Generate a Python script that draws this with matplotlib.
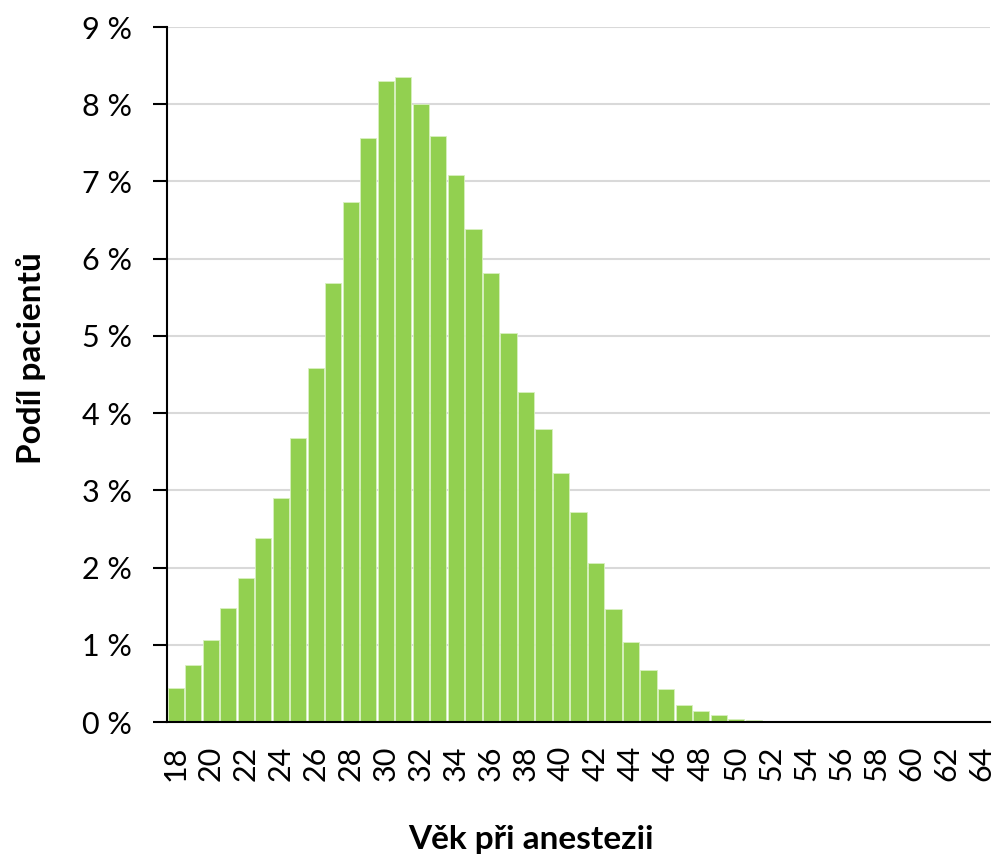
import numpy as np
import matplotlib
matplotlib.use('Agg')
import matplotlib.pyplot as plt
from matplotlib.ticker import FuncFormatter

plt.rcParams['font.family'] = ['Lato', 'DejaVu Sans']

ages = list(range(18, 65))
shares = [0.44, 0.74, 1.06, 1.48, 1.87, 2.38, 2.90, 3.68, 4.59, 5.69,
          6.74, 7.56, 8.30, 8.35, 8.00, 7.59, 7.08, 6.39, 5.82, 5.04,
          4.27, 3.80, 3.23, 2.72, 2.06, 1.46, 1.04, 0.67, 0.43, 0.22,
          0.14, 0.09, 0.04, 0.025, 0.01, 0.005, 0.003, 0.002, 0.001, 0.001,
          0.0, 0.0, 0.0, 0.0, 0.0, 0.0, 0.0]

fig = plt.figure(figsize=(10.02, 8.58), dpi=100)
ax = fig.add_axes([0.1667, 0.1585, 0.8213, 0.81])

x = np.arange(len(ages))
ax.bar(x, shares, width=0.92, color='#92D050', edgecolor='#D8F0C0', linewidth=0.6, zorder=3)

ax.set_xlim(-0.5, len(ages) - 0.5)
ax.set_ylim(0, 9)
ax.set_yticks(range(0, 10))
ax.yaxis.set_major_formatter(FuncFormatter(lambda v, p: f'{int(v)} %'))
ax.set_xticks(x[::2])
ax.set_xticklabels([str(a) for a in ages[::2]], rotation=90)

ax.grid(axis='y', color='#D9D9D9', linewidth=1.5, zorder=0)
for s in ['top', 'right']:
    ax.spines[s].set_visible(False)
ax.spines['left'].set_linewidth(1.5)
ax.spines['bottom'].set_linewidth(1.5)
ax.spines['bottom'].set_zorder(4)

ax.tick_params(axis='y', labelsize=22, length=10, width=1.5, direction='out', pad=15)
ax.tick_params(axis='x', labelsize=22, length=0, pad=17)

ax.set_xlabel('Věk při anestezii', fontsize=24, fontweight='bold')
ax.set_ylabel('Podíl pacientů', fontsize=24, fontweight='bold')
ax.xaxis.set_label_coords(0.442, -0.148)
ax.yaxis.set_label_coords(-0.147, 0.524)

fig.savefig('out.png', dpi=100)
